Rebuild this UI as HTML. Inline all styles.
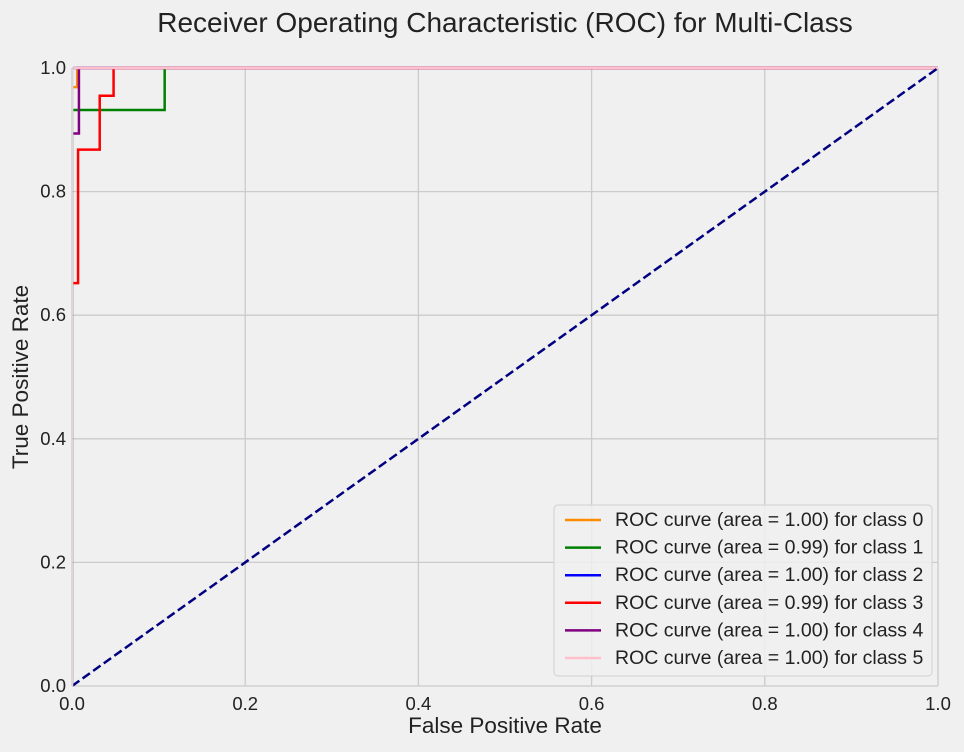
<!DOCTYPE html>
<html><head><meta charset="utf-8"><style>
body{margin:0;background:#f0f0f0;font-family:"Liberation Sans",Arial,sans-serif}
</style></head><body>
<svg id="chart" width="964" height="747" xmlns="http://www.w3.org/2000/svg" font-family="Liberation Sans, Arial, sans-serif">
<defs><clipPath id="plotclip"><rect x="73.4" y="60" width="870" height="630"/></clipPath></defs>
<rect width="964" height="747" fill="#f0f0f0"/>
<text x="505" y="32" font-size="28" text-anchor="middle" fill="#222">Receiver Operating Characteristic (ROC) for Multi-Class</text>
<g id="grid"></g>
<g id="ticks"></g>
<text x="505" y="733" font-size="22.5" text-anchor="middle" fill="#222">False Positive Rate</text>
<text x="28" y="377" font-size="22.5" text-anchor="middle" fill="#222" transform="rotate(-90 28 377)">True Positive Rate</text>
<g id="series" clip-path="url(#plotclip)"></g>
<g id="legend"></g>
</svg>
<script>
const tickValues=[0,0.2,0.4,0.6,0.8,1.0];
const tickLabels=["0.0","0.2","0.4","0.6","0.8","1.0"];
const seriesNames=["class 0","class 1","class 2","class 3","class 4","class 5"];
const seriesAreas=["1.00","0.99","1.00","0.99","1.00","1.00"];
const seriesColors=["darkorange","green","blue","red","purple","pink"];
const fpr0=[0,0,0.006,0.006,1]; const tpr0=[0,0.969,0.969,1,1];
const fpr1=[0,0,0.107,0.107,1]; const tpr1=[0,0.932,0.932,1,1];
const fpr2=[0,0,1]; const tpr2=[0,1,1];
const fpr3=[0,0,0.007,0.007,0.032,0.032,0.048,0.048,1]; const tpr3=[0,0.652,0.652,0.868,0.868,0.955,0.955,1,1];
const fpr4=[0,0,0.008,0.008,1]; const tpr4=[0,0.894,0.894,1,1];
const fpr5=[0,0,1]; const tpr5=[0,1,1];
const diagX=[0,1]; const diagY=[0,1];
const fprs=[fpr0,fpr1,fpr2,fpr3,fpr4,fpr5], tprs=[tpr0,tpr1,tpr2,tpr3,tpr4,tpr5];
const X0=72,X1=938,Y0=686,Y1=68;
const sx=v=>X0+v*(X1-X0), sy=v=>Y0-v*(Y0-Y1);
const NS="http://www.w3.org/2000/svg";
function mk(t,a,p){const e=document.createElementNS(NS,t);for(const k in a)e.setAttribute(k,a[k]);p.appendChild(e);return e;}
const grid=document.getElementById('grid'),ticks=document.getElementById('ticks');
tickValues.forEach((v,i)=>{
 let l=mk('line',{x1:sx(v),x2:sx(v),y1:Y1,y2:Y0,stroke:'#cbcbcb','stroke-width':1.3},grid);
 
 
 l=mk('line',{x1:X0,x2:X1,y1:sy(v),y2:sy(v),stroke:'#cbcbcb','stroke-width':1.3},grid);
 
 
 let t=mk('text',{x:sx(v),y:Y0+24,'font-size':18.5,'text-anchor':'middle',fill:'#222'},ticks);t.textContent=tickLabels[i];
 
 
 t=mk('text',{x:X0-6,y:sy(v)+6,'font-size':18.5,'text-anchor':'end',fill:'#222'},ticks);t.textContent=tickLabels[i];
 
 
});
const ser=document.getElementById('series');
fprs.forEach((f,i)=>{
 const pts=f.map((x,j)=>sx(x)+','+sy(tprs[i][j])).join(' ');
 const p=mk('polyline',{points:pts,fill:'none',stroke:seriesColors[i],'stroke-width':2.5},ser);
 
 
});
const d=mk('polyline',{points:diagX.map((x,j)=>sx(x)+','+sy(diagY[j])).join(' '),fill:'none',stroke:'navy','stroke-width':2.5,'stroke-dasharray':'9,4'},ser);


const lg=document.getElementById('legend');
const box=mk('rect',{x:554,y:505,width:378,height:171,rx:4,fill:'#f0f0f0',stroke:'#d0d0d0','fill-opacity':0.85},lg);


seriesNames.forEach((n,i)=>{
 const y=520+i*27.6;
 const g=mk('g',{},lg);
 
 
 mk('line',{x1:565,x2:601,y1:y,y2:y,stroke:seriesColors[i],'stroke-width':2.5},g);
 const t=mk('text',{x:615,y:y+6,'font-size':19.5,fill:'#222'},g);
 t.textContent='ROC curve (area = '+seriesAreas[i]+') for '+n;
});
</script>
</body></html>
